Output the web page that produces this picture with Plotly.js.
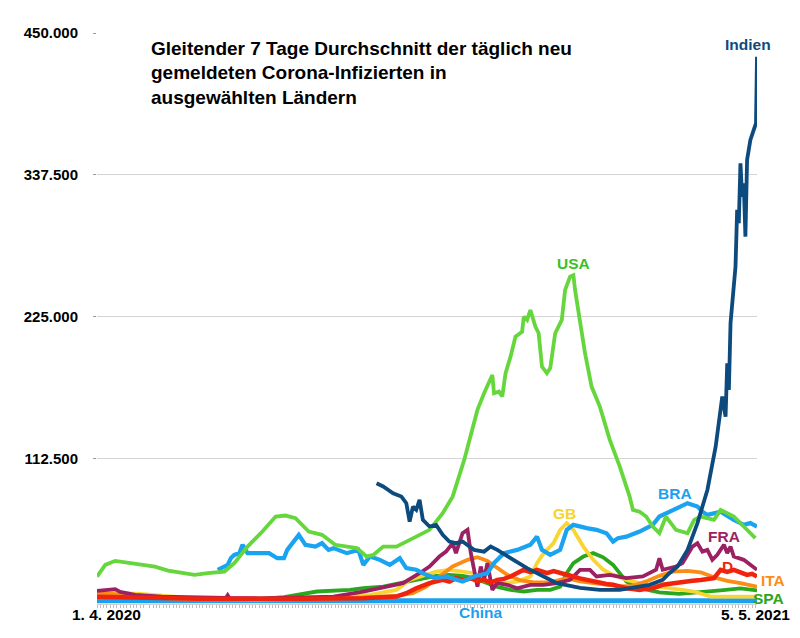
<!DOCTYPE html>
<html><head><meta charset="utf-8">
<script src="https://cdn.plot.ly/plotly-3.0.1.min.js"></script>
<style>html,body{margin:0;padding:0;background:#fff}#chart{width:800px;height:638px}</style>
</head><body><div id="chart"></div>
<script>
// Days since 1. 4. 2020 and 7-day average of new infections
const usaDays = [0,5,11,21,27,35,43,51,59,67,77,83,91,100,108,114,120,128,136,144,151,157,163,167,173,181,193,201,209,215,222,226,230,234,237,239,240,243,245,247,250,253,257,258,260,262,265,267,269,272,274,277,281,283,286,288,289,292,295,299,304,310,316,322,324,328,332,336,340,344,350,357,361,365,373,377,385,391,398];
const usaValues = [19250,28500,31700,29870,28500,27170,24000,22400,20600,21950,23200,29900,43000,54900,66800,67600,65500,54900,52300,44400,43000,41750,35100,36400,43000,43000,50900,56250,69500,82600,111700,130200,151300,164500,172500,179000,164500,165800,161900,180400,193500,209400,213300,225200,222600,230500,217300,212100,185600,180400,184400,212100,222600,246400,256900,258000,246400,222600,196500,169800,153900,127600,106500,82600,72100,70700,66800,58900,53600,66800,56250,53600,64200,66800,64200,72100,66800,58900,49700];

const indDays = [169,173,179,184,187,189,191,193,195,197,201,205,209,213,217,221,228,234,238,242,250,260,270,278,292,304,316,334,342,346,351,357,363,369,374,378,380,381,382,383,386,387,388,389,390,391,392,393,395,397,398.4,399];
const indValues = [93200,90600,85300,82600,77400,62800,74700,72100,80000,64200,58900,60200,52300,47000,45700,47000,40400,39000,43000,40400,33800,25900,19300,14000,10300,8700,8700,12700,16600,21900,27200,40400,61600,87900,122200,161900,146000,188300,167200,220000,264800,309800,299200,346800,320300,330900,288600,349400,365200,373200,378500,431200];

const braDays = [73,79,81,83,86,88,91,96,104,109,113,115,118,122,126,132,136,140,143,151,158,161,165,171,177,183,187,193,199,205,211,217,221,228,236,240,246,254,262,266,269,274,280,284,288,296,302,308,312,315,320,328,336,340,346,352,357,363,366,369,377,385,391,395,399];
const braValues = [24600,28500,34000,36400,37800,44400,37800,37800,37800,33800,33800,40400,45700,52300,44400,43000,45700,40400,41750,37800,40400,28500,35100,32500,28500,33800,25900,24600,20600,18000,19300,16600,15300,19300,21900,29900,37800,40400,44400,50900,40400,36400,40400,56250,60200,57600,56250,53600,47000,49700,50900,54900,60200,66800,70700,74700,77400,74700,70700,68100,70700,64200,60200,61600,58900];

const gbDays = [0,11,26,41,56,74,99,123,147,165,181,189,197,205,213,221,228,232,238,246,254,262,266,270,276,280,284,288,294,300,306,312,320,332,346,361,371,399];
const gbValues = [6300,6300,5500,4000,2400,1600,1200,1600,2800,4750,8700,16600,19800,23200,24600,23200,21900,16600,15300,14000,15300,19300,29900,37800,45700,56250,61600,56250,43000,32500,24600,20600,16600,12700,10000,7400,3400,3400];

const fraDays = [0,5,11,14,23,39,62,78,79,80,99,123,143,161,177,185,195,201,207,211,215,217,221,224,226,228,230,232,234,236,239,242,248,254,262,270,278,286,292,298,302,310,320,330,338,340,342,350,354,360,363,366,369,372,375,379,381,383,385,391,399];
const fraValues = [7900,8700,9300,7100,4750,3400,2400,2400,4400,2400,2000,2400,3400,7400,11300,14000,21900,27200,35100,39000,45700,37800,53600,56250,37800,24600,11300,27200,16600,29900,8700,14000,12700,10000,12700,12700,14000,16600,24600,24600,19300,20600,18000,19300,24600,33800,24600,27200,29900,43000,45700,39000,40400,32500,36400,44400,37800,43000,35100,32500,24600];

const deDays = [0,20,62,123,161,181,187,193,201,209,213,217,222,226,230,234,238,242,246,250,254,258,262,266,269,272,276,280,284,288,292,296,300,304,308,312,316,320,324,328,332,336,342,348,354,360,365,369,373,377,381,385,389,393,396,399];
const deValues = [3200,2400,1600,1600,2100,3400,6100,10000,14000,16600,15300,18000,16400,18000,15600,16600,14500,16600,17400,19300,21900,24600,22800,24600,23400,21900,23600,21900,20800,19300,17800,16600,15200,14000,13400,12700,11200,10000,9400,8700,9600,10000,12700,14000,15300,16000,16600,17400,18000,24600,23000,24600,22500,20600,21400,19300];

const itaDays = [0,11,26,44,62,99,141,161,181,191,199,207,215,224,230,236,242,248,256,264,274,284,292,300,308,316,324,332,340,348,357,365,373,381,389,399];
const itaValues = [6300,5100,3600,2000,1200,1000,1600,2800,4000,6100,11300,19300,27200,32500,34600,31700,25700,20600,16200,14700,14700,18000,15400,13900,12300,11500,11900,15400,19800,23200,23800,22600,18600,15800,14000,11300];

const spaDays = [0,11,29,49,74,99,113,133,153,161,173,181,197,205,213,221,228,234,242,250,258,266,274,280,284,288,294,300,306,312,316,320,328,340,352,365,377,389,399];
const spaValues = [7100,6100,3400,2100,1200,1600,2900,7400,8700,10000,11300,13500,18000,19800,20600,19800,18000,15300,11100,8700,7400,8700,8700,11300,22200,29900,35100,37800,34500,28500,22200,15400,10000,6700,5500,6700,8300,9900,8300];

const chinaDays = [0,100,200,300,399];
const chinaValues = [60,30,25,20,15];

function toDates(days) {
  return days.map(d => new Date(Date.UTC(2020, 3, 1) + d * 86400000).toISOString().slice(0, 19).replace('T', ' '));
}

const series = [
  {name: 'China', days: chinaDays, values: chinaValues, color: '#1aa0ee', width: 5},
  {name: 'SPA', days: spaDays, values: spaValues, color: '#2aa71e', width: 3.8},
  {name: 'GB', days: gbDays, values: gbValues, color: '#f8d533', width: 3.8},
  {name: 'ITA', days: itaDays, values: itaValues, color: '#fb8c14', width: 3.8},
  {name: 'FRA', days: fraDays, values: fraValues, color: '#9b2162', width: 3.8},
  {name: 'D', days: deDays, values: deValues, color: '#f0240e', width: 4.5},
  {name: 'BRA', days: braDays, values: braValues, color: '#1aa3f0', width: 4.2},
  {name: 'USA', days: usaDays, values: usaValues, color: '#66d63d', width: 3.8},
  {name: 'Indien', days: indDays, values: indValues, color: '#0d4a7e', width: 3.8}
];

const traces = series.map(s => ({
  type: 'scatter', mode: 'lines', name: s.name,
  x: toDates(s.days), y: s.values,
  line: {color: s.color, width: s.width, shape: 'linear'},
  hoverinfo: 'skip'
}));

const yTickVals = [112500, 225000, 337500, 450000];
const yTickText = ['112.500', '225.000', '337.500', '450.000'];
const xLabels = ['1. 4. 2020', '5. 5. 2021'];
const titleLines = ['Gleitender 7 Tage Durchschnitt der täglich neu', 'gemeldeten Corona-Infizierten in', 'ausgewählten Ländern'];

const FONT = 'Liberation Sans, Arial, Helvetica, sans-serif';
const T = 33, B = 34, L = 97, R = 43, H = 638 - T - B, W = 800 - L - R;
const px = x => (x - L) / W;
const py = y => (638 - B - y) / H;

const labels = [
  {t: 'Indien', x: 748, y: 44, c: '#0d4a7e'},
  {t: 'USA', x: 573, y: 263, c: '#38c21c'},
  {t: 'BRA', x: 675, y: 493, c: '#1aa0ee'},
  {t: 'GB', x: 564, y: 513, c: '#f5d42a'},
  {t: 'FRA', x: 724, y: 536, c: '#9b2162'},
  {t: 'D', x: 727, y: 566, c: '#f0240e'},
  {t: 'ITA', x: 773, y: 580, c: '#fb8c14'},
  {t: 'SPA', x: 768, y: 598, c: '#2aa71e'},
  {t: 'China', x: 480, y: 612, c: '#1aa0ee'}
];

const annotations = [];
labels.forEach(l => annotations.push({
  text: '<b>' + l.t + '</b>', xref: 'paper', yref: 'paper', x: px(l.x), y: py(l.y),
  xanchor: 'center', yanchor: 'middle', showarrow: false, borderpad: 0,
  font: {family: FONT, size: 15.5, color: l.c}
}));
[[xLabels[0], 106], [xLabels[1], 755]].forEach(([t, x]) => annotations.push({
  text: '<b>' + t + '</b>', xref: 'paper', yref: 'paper', x: px(x), y: py(614),
  xanchor: 'center', yanchor: 'middle', showarrow: false,
  font: {family: FONT, size: 15.5, color: '#000'}
}));
titleLines.forEach((t, i) => annotations.push({
  text: '<b>' + t + '</b>', xref: 'paper', yref: 'paper', x: px(149), y: py(48 + 25 * i),
  xanchor: 'left', yanchor: 'middle', showarrow: false,
  font: {family: FONT, size: 19, color: '#000'}
}));

const layout = {
  width: 800, height: 638,
  margin: {l: L, r: R, t: T, b: B, pad: 0},
  paper_bgcolor: '#fff', plot_bgcolor: '#fff',
  showlegend: false,
  font: {family: FONT, color: '#000'},
  xaxis: {
    type: 'date',
    range: toDates([0, 399]),
    showgrid: false, zeroline: false,
    showline: true, linecolor: '#cfcfcf', linewidth: 1,
    showticklabels: false,
    ticks: '',
    minor: {dtick: 2 * 86400000, tick0: toDates([0])[0], ticks: 'outside', ticklen: 3, tickcolor: '#bdbdbd', tickwidth: 1, showgrid: false}
  },
  yaxis: {
    range: [-2500, 450000],
    tickmode: 'array', tickvals: yTickVals, ticktext: yTickText,
    showgrid: true, gridcolor: '#d4d4d4', gridwidth: 1,
    zeroline: false, showline: false,
    ticks: 'outside', ticklen: 3, tickcolor: '#999', tickwidth: 1,
    ticklabelstandoff: 12,
    tickfont: {family: FONT, size: 15, color: '#000', weight: 'bold'}
  },
  annotations: annotations
};

Plotly.newPlot('chart', traces, layout, {staticPlot: true, displayModeBar: false});
</script></body></html>
